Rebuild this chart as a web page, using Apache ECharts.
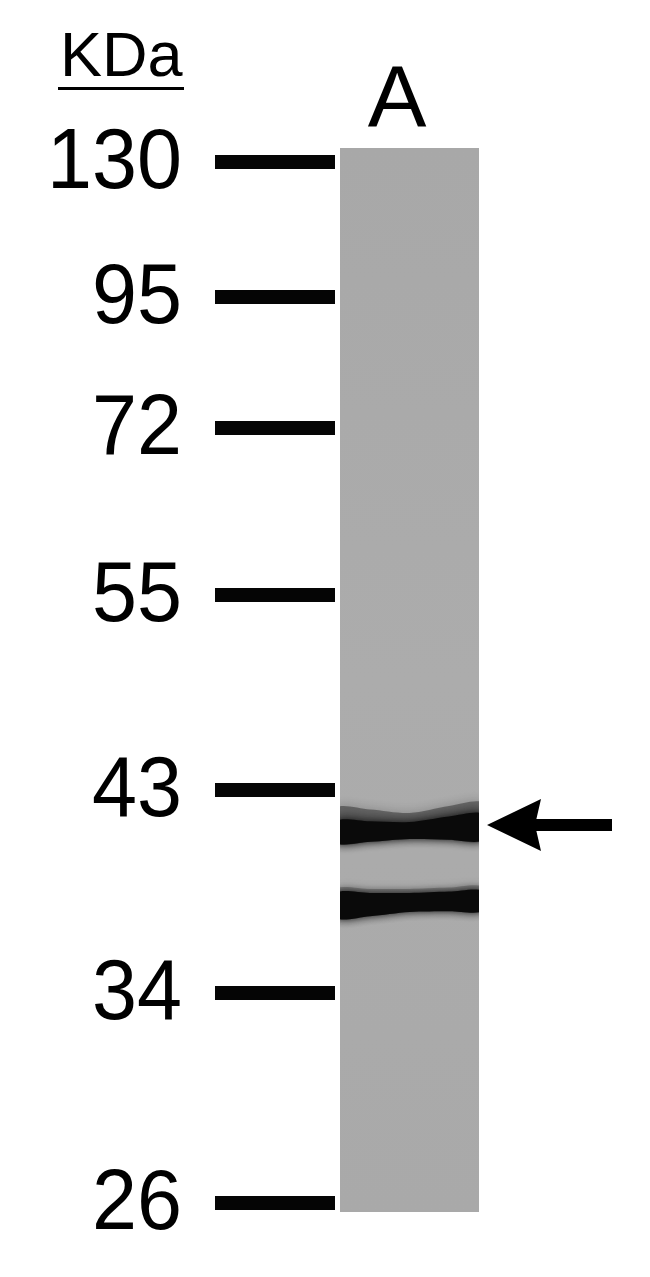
<!DOCTYPE html>
<html>
<head>
<meta charset="utf-8">
<style>html,body{margin:0;padding:0;background:#fff;}#chart{width:650px;height:1277px;}</style>
<script src="https://cdn.jsdelivr.net/npm/echarts@6/dist/echarts.min.js"></script>
</head>
<body>
<div id="chart"></div>
<script>
// ---- data ----
const unitLabel = 'KDa';
const markerLabels = ['130', '95', '72', '55', '43', '34', '26'];
const markerMigration = [162, 297, 428, 595, 790, 993, 1203]; // migration distance on the gel
const laneNames = ['A'];
const laneExtent = [148, 1212]; // start / end of the lane (migration units)
const bandMigration = [830, 903];
const bandIntensity = [1.0, 1.0];
const arrowMigration = [825];

// ---- layout (styles / positions, not data) ----
const L = {
  labelRight: 182, barLeft: 215, barRight: 335, barHeight: 14,
  laneLeft: 340, laneRight: 479, laneCenter: 397,
  arrowTip: 487, arrowHeadBack: 541, arrowTail: 612, arrowHalf: 26, shaftHalf: 6
};
// offsets (left, middle, right) of each band's core and haze edges
const bandShape = [
  {top: [-9, -8, -16], bot: [13, 9, 10], haze: [-22, -17, -27], hazeAlpha: 0.45},
  {top: [-10, -10, -12], bot: [15, 9, 8], haze: [-14, -14, -16], hazeAlpha: 0.25}
];

const chart = echarts.init(document.getElementById('chart'), null, {renderer: 'canvas'});
const FONT = '"Liberation Sans", Arial, sans-serif';

function edgePoints(x0, x1, c, off, reverse) {
  const xm = (x0 + x1) / 2;
  const pts = [
    [x0 - 4, c + off[0]], [x0 + 30, c + (off[0] * 0.7 + off[1] * 0.3)], [xm, c + off[1]],
    [x1 - 30, c + (off[2] * 0.7 + off[1] * 0.3)], [x1 + 4, c + off[2]]
  ];
  return reverse ? pts.reverse() : pts;
}

const option = {
  animation: false,
  backgroundColor: '#ffffff',
  grid: {left: 0, right: 0, top: 0, bottom: 0},
  xAxis: {type: 'value', min: 0, max: 650, show: false},
  yAxis: {type: 'value', min: 0, max: 1277, inverse: true, show: false},
  series: [
    { // lane
      type: 'custom', coordinateSystem: 'cartesian2d',
      data: laneNames.map(() => [laneExtent[0], laneExtent[1]]),
      renderItem: function (params, api) {
        const p0 = api.coord([L.laneLeft, api.value(0)]);
        const p1 = api.coord([L.laneRight, api.value(1)]);
        return {
          type: 'group', children: [
            {type: 'rect', shape: {x: p0[0], y: p0[1], width: p1[0] - p0[0], height: p1[1] - p0[1]},
             style: {fill: new echarts.graphic.LinearGradient(0, 0, 0, 1, [
               {offset: 0, color: '#a8a8a8'}, {offset: 0.5, color: '#acacac'}, {offset: 1, color: '#a9a9a9'}])}},
            {type: 'text', style: {x: api.coord([L.laneCenter, 0])[0], y: 103,
              text: laneNames[params.dataIndex], font: '88px ' + FONT, fill: '#000',
              align: 'center', verticalAlign: 'middle'}}
          ]
        };
      }
    },
    { // bands
      type: 'custom', coordinateSystem: 'cartesian2d',
      data: bandMigration.map((m, i) => [m, bandIntensity[i]]),
      renderItem: function (params, api) {
        const c = api.coord([0, api.value(0)])[1];
        const x0 = api.coord([L.laneLeft, 0])[0];
        const x1 = api.coord([L.laneRight, 0])[0];
        const s = bandShape[params.dataIndex];
        const v = api.value(1);
        const core = edgePoints(x0, x1, c, s.top, false).concat(edgePoints(x0, x1, c, s.bot, true));
        const haze = edgePoints(x0, x1, c, s.haze, false).concat(edgePoints(x0, x1, c, s.bot, true));
        return {
          type: 'group',
          clipPath: {type: 'rect', shape: {x: x0, y: c - 60, width: x1 - x0, height: 120}},
          children: [
            {type: 'polygon', shape: {points: haze, smooth: 0.3},
             style: {fill: 'rgba(30,30,30,' + s.hazeAlpha + ')', shadowBlur: 12, shadowColor: 'rgba(30,30,30,0.6)'}},
            {type: 'polygon', shape: {points: core, smooth: 0.3},
             style: {fill: 'rgba(10,10,10,' + v + ')', shadowBlur: 8, shadowColor: 'rgba(10,10,10,0.95)'}}
          ]
        };
      }
    },
    { // marker bars + labels
      type: 'custom', coordinateSystem: 'cartesian2d',
      data: markerMigration.map((m, i) => [m, markerLabels[i]]),
      renderItem: function (params, api) {
        const y = api.coord([0, api.value(0)])[1];
        const xl = api.coord([L.barLeft, 0])[0];
        const xr = api.coord([L.barRight, 0])[0];
        return {
          type: 'group', children: [
            {type: 'rect', shape: {x: xl, y: y - L.barHeight / 2, width: xr - xl, height: L.barHeight},
             style: {fill: '#050505'}},
            {type: 'text', x: api.coord([L.labelRight, 0])[0], y: y + 2, scaleX: 0.94,
             style: {x: 0, y: 0, text: markerLabels[params.dataIndex], font: '86px ' + FONT, fill: '#000',
               align: 'right', verticalAlign: 'middle'}}
          ]
        };
      }
    },
    { // arrow
      type: 'custom', coordinateSystem: 'cartesian2d',
      data: arrowMigration.map((m) => [m]),
      renderItem: function (params, api) {
        const y = api.coord([0, api.value(0)])[1];
        const tip = api.coord([L.arrowTip, 0])[0];
        const back = api.coord([L.arrowHeadBack, 0])[0];
        const tail = api.coord([L.arrowTail, 0])[0];
        return {
          type: 'group', children: [
            {type: 'polygon', shape: {points: [[tip, y], [back, y - L.arrowHalf], [back - 6, y], [back, y + L.arrowHalf]]},
             style: {fill: '#000'}},
            {type: 'rect', shape: {x: back - 8, y: y - L.shaftHalf, width: tail - back + 8, height: L.shaftHalf * 2},
             style: {fill: '#000'}}
          ]
        };
      }
    },
    { // unit header
      type: 'custom', coordinateSystem: 'cartesian2d',
      data: [[0]],
      renderItem: function () {
        return {
          type: 'group', children: [
            {type: 'text', style: {x: 60, y: 59, text: unitLabel, font: '63px ' + FONT, fill: '#000',
              align: 'left', verticalAlign: 'middle'}},
            {type: 'rect', shape: {x: 58, y: 87, width: 126, height: 3}, style: {fill: '#000'}}
          ]
        };
      }
    }
  ]
};
chart.setOption(option);
</script>
</body>
</html>
